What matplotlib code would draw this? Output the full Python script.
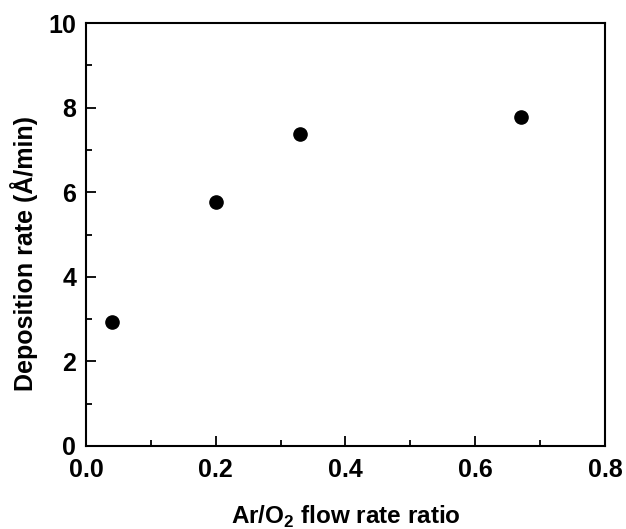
import numpy as np
import matplotlib
matplotlib.use('Agg')
from matplotlib import pyplot as plt
from matplotlib.ticker import MultipleLocator

ratio = [0.04, 0.20, 0.33, 0.67]
rate = [2.92, 5.78, 7.38, 7.78]

plt.rcParams['font.family'] = ['Liberation Sans', 'DejaVu Sans']
plt.rcParams['font.weight'] = 'bold'
plt.rcParams['mathtext.fontset'] = 'custom'
plt.rcParams['mathtext.bf'] = 'Liberation Sans:bold'

fig = plt.figure(figsize=(6.26, 5.29), dpi=100)
ax = fig.add_axes([0.1374, 0.1569, 0.829, 0.7996])

ax.plot(ratio, rate, 'o', color='black', markersize=9.5, linestyle='none')

ax.set_xlim(0, 0.8)
ax.set_ylim(0, 10)
ax.xaxis.set_major_locator(MultipleLocator(0.2))
ax.xaxis.set_minor_locator(MultipleLocator(0.1))
ax.yaxis.set_major_locator(MultipleLocator(2))
ax.yaxis.set_minor_locator(MultipleLocator(1))
ax.xaxis.set_major_formatter(matplotlib.ticker.FormatStrFormatter('%.1f'))

for s in ax.spines.values():
    s.set_linewidth(1.5)
ax.tick_params(which='major', direction='in', length=7, width=1.3, labelsize=18)
ax.tick_params(axis='x', which='major', pad=9)
ax.tick_params(axis='y', which='major', pad=7)
ax.tick_params(which='minor', direction='in', length=4, width=1.3)
ax.tick_params(top=False, right=False, which='both')
for lab in ax.get_xticklabels() + ax.get_yticklabels():
    lab.set_fontweight('bold')

ax.set_xlabel('Ar/O$_\\mathbf{2}$ flow rate ratio', fontsize=17.5, fontweight='bold', labelpad=15)
ax.set_ylabel('Deposition rate (Å/min)', fontsize=18, fontweight='bold')
ax.yaxis.set_label_coords(-0.092, 0.455)

plt.savefig('out.png', dpi=100)
